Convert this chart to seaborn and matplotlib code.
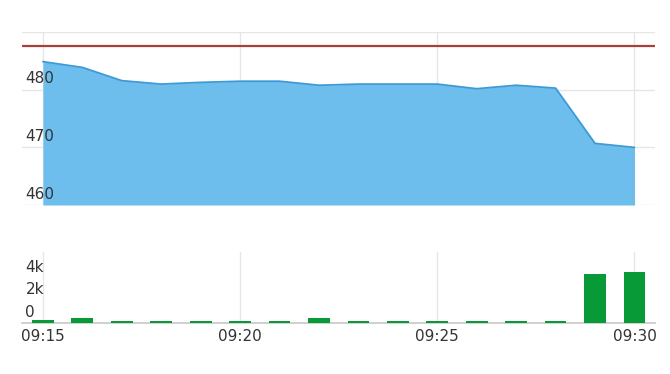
import matplotlib
matplotlib.use("Agg")
import matplotlib.pyplot as plt
import matplotlib.transforms as mtransforms
import seaborn as sns
import pandas as pd

times = ["09:15", "09:16", "09:17", "09:18", "09:19", "09:20", "09:21", "09:22",
         "09:23", "09:24", "09:25", "09:26", "09:27", "09:28", "09:29", "09:30"]
price = [484.9, 483.9, 481.6, 481.0, 481.3, 481.5, 481.5, 480.8,
         481.0, 481.0, 481.0, 480.2, 480.8, 480.3, 470.7, 470.0]
volume = [250, 450, 180, 180, 180, 180, 180, 450,
          180, 180, 180, 180, 180, 180, 4330, 4530]
ref_price = 487.7
price_ticks = [460, 470, 480, 490]
price_tick_labels = ["460", "470", "480", ""]
vol_ticks = [0, 2000, 4000]
vol_tick_labels = ["0", "2k", "4k"]
x_ticks = ["09:15", "09:20", "09:25", "09:30"]

df = pd.DataFrame({"t": range(len(times)), "time": times, "price": price, "volume": volume})
xpos = {t: i for i, t in enumerate(times)}

sns.set_theme(style="white")
plt.rcParams["font.family"] = ["DejaVu Sans"]

W, H = 670, 374
fig = plt.figure(figsize=(W / 100, H / 100), dpi=100)

left, right = 22, 655
ax1 = fig.add_axes([left / W, 1 - 205 / H, (right - left) / W, (205 - 32.3) / H])
ax2 = fig.add_axes([left / W, 1 - 323 / H, (right - left) / W, 71 / H])

grid_c = "#e6e6e6"
text_c = "#333333"
xlim = (-0.53, 15.52)

# --- price panel ---
ax1.fill_between(df["t"], price, 460, color="#6dbeed", linewidth=0, zorder=2)
sns.lineplot(data=df, x="t", y="price", ax=ax1, color="#3d9ad6", linewidth=1.3, zorder=3)
ax1.axhline(ref_price, color="#a93f3b", linewidth=1.6, zorder=4)
ax1.set_xlim(*xlim)
ax1.set_ylim(460, 490)
ax1.set_yticks(price_ticks)
ax1.set_xticks([xpos[t] for t in x_ticks])
ax1.set_xticklabels([])
ax1.grid(True, color=grid_c, linewidth=1)
ax1.set_axisbelow(True)
for s in ax1.spines.values():
    s.set_visible(False)
ax1.set_xlabel("")
ax1.set_ylabel("")

# --- volume panel ---
sns.barplot(data=df, x="t", y="volume", ax=ax2, color="#079a37", native_scale=True,
            width=0.55, saturation=1, linewidth=0, zorder=3)
ax2.set_xlim(*xlim)
ax2.set_ylim(0, 6311)
ax2.set_yticks(vol_ticks)
ax2.set_xticks([xpos[t] for t in x_ticks])
ax2.set_xticklabels(x_ticks)
ax2.grid(True, axis="x", color=grid_c, linewidth=1)
ax2.grid(False, axis="y")
ax2.set_axisbelow(True)
for k, s in ax2.spines.items():
    s.set_visible(k == "bottom")
ax2.spines["bottom"].set_color("#c8c8c8")
ax2.spines["bottom"].set_linewidth(1.2)
ax2.spines["bottom"].set_zorder(1)
ax2.set_xlabel("")
ax2.set_ylabel("")

off = mtransforms.ScaledTranslation(2.5 / 72, 2.5 / 72, fig.dpi_scale_trans)
for ax, ticks, labels in ((ax1, price_ticks, price_tick_labels),
                          (ax2, vol_ticks, vol_tick_labels)):
    ax.tick_params(axis="y", length=0, labelleft=False)
    ax.tick_params(axis="x", length=0, pad=4, labelsize=11, labelcolor=text_c)
    tr = mtransforms.blended_transform_factory(ax.transAxes, ax.transData) + off
    for v, lab in zip(ticks, labels):
        if lab:
            ax.text(0, v, lab, transform=tr, ha="left", va="bottom",
                    fontsize=11, color=text_c, zorder=10)

fig.savefig("out.png", dpi=100, facecolor="white")
